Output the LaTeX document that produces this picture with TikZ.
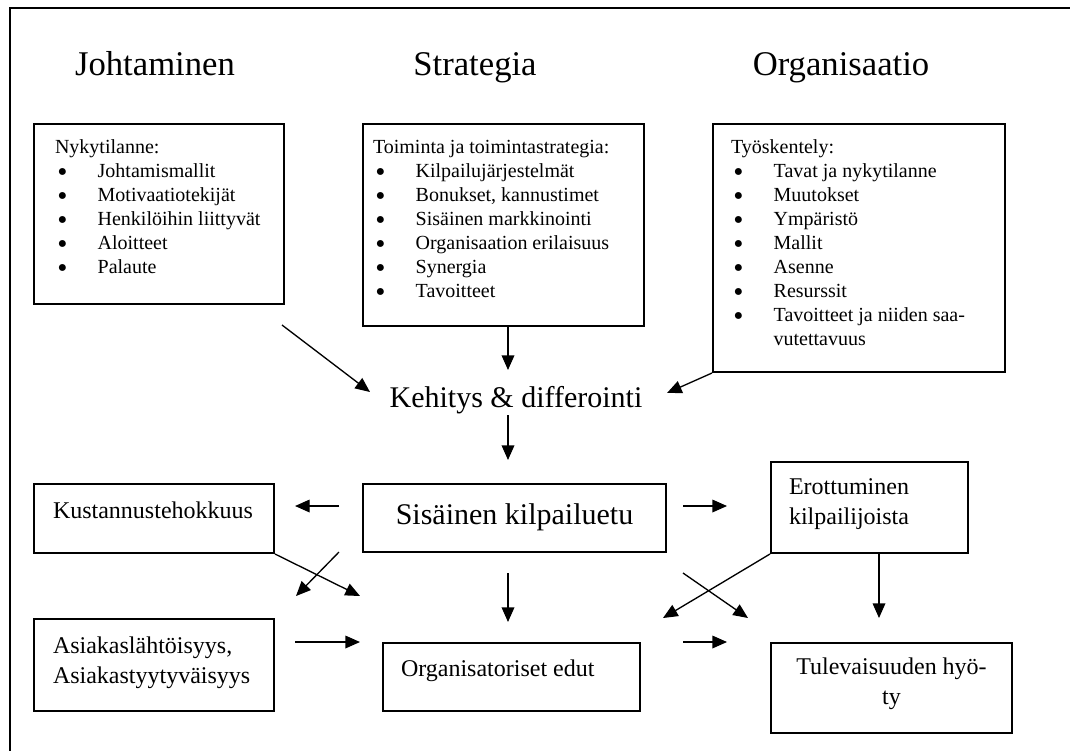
\documentclass[tikz,border=0pt]{standalone}
\usepackage{fontspec}
\setmainfont{Liberation Serif}
\usetikzlibrary{arrows.meta}
\newcommand{\itm}[1]{\par\hspace*{2pt}\makebox[30pt][l]{\raisebox{0.6pt}{\fontsize{12}{18}\selectfont ●}}#1}

\begin{document}
\begin{tikzpicture}[x=0.75pt,y=-0.75pt,
  box/.style={draw,line width=1.5pt,anchor=north west,inner sep=0pt},
  small/.style={font=\fontsize{15}{18}\selectfont},
  mid/.style={font=\fontsize{18}{22.5}\selectfont},
  big/.style={font=\fontsize{22.5}{27}\selectfont},
  title/.style={font=\fontsize{26}{31}\selectfont,anchor=base},
  arr/.style={line width=1pt,-{Triangle[length=11pt,width=9.5pt]}}]

\useasboundingbox (0,0) rectangle (1070,751);
\draw[line width=1.5pt] (1070,8) -- (10,8) -- (10,751);

% otsikot
\node[title] (tJoht) at (155,75) {Johtaminen};
\node[title] (tStrat) at (475,75) {Strategia};
\node[title] (tOrg) at (841,75) {Organisaatio};

% ylarivin laatikot
\node[box,small] (nyky) at (33,123) {\parbox[t][135pt][t]{187.5pt}{\leftskip=15.75pt\vspace*{9.15pt}\strut Nykytilanne:
  \itm{Johtamismallit}\itm{Motivaatiotekijät}\itm{Henkilöihin liittyvät}\itm{Aloitteet}\itm{Palaute}}};
\node[box,small] (toim) at (362,123) {\parbox[t][151.5pt][t]{210.75pt}{\leftskip=7.5pt\vspace*{9.15pt}\strut Toiminta ja toimintastrategia:
  \itm{Kilpailujärjestelmät}\itm{Bonukset, kannustimet}\itm{Sisäinen markkinointi}\itm{Organisaation erilaisuus}\itm{Synergia}\itm{Tavoitteet}}};
\node[box,small] (tyo) at (712,123) {\parbox[t][186pt][t]{219pt}{\leftskip=13.5pt\vspace*{9.15pt}\strut Työskentely:
  \itm{Tavat ja nykytilanne}\itm{Muutokset}\itm{Ympäristö}\itm{Mallit}\itm{Asenne}\itm{Resurssit}\itm{Tavoitteet ja niiden saa-}
  \par\hspace*{32pt}vutettavuus}};

\node[big,anchor=base] (kehitys) at (516,407) {Kehitys \& differointi};

% alarivin laatikot
\node[box,big] (sis) at (362,483) {\parbox[t][51pt][t]{227.25pt}{\centering\vspace*{11.1pt}\strut Sisäinen kilpailuetu}};
\node[box,mid] (kust) at (33,483) {\parbox[t][51.75pt][t]{180pt}{\leftskip=14.25pt\vspace*{9.75pt}\strut Kustannustehokkuus}};
\node[box,mid] (ero) at (770,461) {\parbox[t][68.25pt][t]{147.75pt}{\leftskip=13.5pt\vspace*{8.25pt}\strut Erottuminen\par kilpailijoista}};
\node[box,mid] (asiak) at (33,618) {\parbox[t][69pt][t]{180pt}{\leftskip=14.25pt\vspace*{9.75pt}\strut Asiakaslähtöisyys,\par Asiakastyytyväisyys}};
\node[box,mid] (edut) at (382,642) {\parbox[t][51pt][t]{192.75pt}{\leftskip=13.5pt\vspace*{9pt}\strut Organisatoriset edut}};
\node[box,mid] (tulev) at (770,642) {\parbox[t][67.5pt][t]{180.75pt}{\centering\vspace*{7.5pt}\strut Tulevaisuuden hyö-\\ty}};

% nuolten paat
\coordinate (jOut) at (282,325);
\coordinate (kIn1) at (370,392);
\coordinate (sOut) at (508,325);
\coordinate (kIn2) at (508,370);
\coordinate (kIn3) at (667,393);
\coordinate (kOut) at (508,415);
\coordinate (sisIn) at (508,460);
\coordinate (sL) at (339,506);
\coordinate (kustIn) at (295,506);
\coordinate (sR) at (683,506);
\coordinate (eroIn) at (727,506);
\coordinate (sLD) at (339,552);
\coordinate (asIn) at (296,596);
\coordinate (edIn1) at (360,596);
\coordinate (sD) at (508,573);
\coordinate (edIn2) at (508,622);
\coordinate (asOut) at (295,642);
\coordinate (edIn3) at (360,642);
\coordinate (edIn4) at (663,618);
\coordinate (sRD) at (683,573);
\coordinate (tuIn1) at (748,618);
\coordinate (eD) at (879,552);
\coordinate (tuIn2) at (879,618);
\coordinate (edOut) at (683,642);
\coordinate (tuIn3) at (727,642);

\draw[arr] (jOut) -- (kIn1);
\draw[arr] (sOut) -- (kIn2);
\draw[arr] (tyo.south west) -- (kIn3);
\draw[arr] (kOut) -- (sisIn);
\draw[arr] (sL) -- (kustIn);
\draw[arr] (sR) -- (eroIn);
\draw[arr] (sLD) -- (asIn);
\draw[arr] (kust.south east) -- (edIn1);
\draw[arr] (sD) -- (edIn2);
\draw[arr] (asOut) -- (edIn3);
\draw[arr] (ero.south west) -- (edIn4);
\draw[arr] (sRD) -- (tuIn1);
\draw[arr] (eD) -- (tuIn2);
\draw[arr] (edOut) -- (tuIn3);
\end{tikzpicture}
\end{document}
